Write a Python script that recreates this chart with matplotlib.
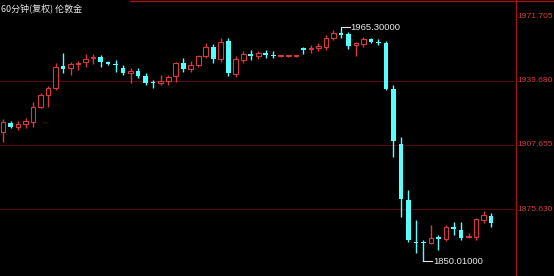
import numpy as np
import matplotlib
matplotlib.use("Agg")
import matplotlib.pyplot as plt
from matplotlib.lines import Line2D

# chart text and axis labels
title = "60分钟(复权) 伦敦金"
price_ticks = [1971.705, 1939.680, 1907.655, 1875.630]
high_label = "1965.30000"
low_label = "1850.01000"

# hourly candles
opens = [1914.1, 1918.6, 1916.6, 1918.1, 1919.1, 1926.5, 1932.5, 1936.0, 1946.9, 1945.9,
         1947.9, 1948.9, 1950.9, 1951.4, 1948.9, 1947.9, 1945.9, 1943.4, 1944.4, 1941.9,
         1938.9, 1938.4, 1939.4, 1941.9, 1948.4, 1945.4, 1947.4, 1951.8, 1956.3, 1950.4,
         1959.3, 1942.9, 1949.9, 1952.8, 1951.8, 1953.3, 1952.3, 1951.6, 1951.6, 1951.6,
         1955.8, 1955.3, 1955.8, 1956.3, 1960.8, 1963.3, 1962.8, 1957.3, 1957.8, 1960.3,
         1958.8, 1958.3, 1935.5, 1908.1, 1880.3, 1859.5, 1859.5, 1859.0, 1862.0, 1861.0,
         1866.9, 1865.5, 1862.0, 1862.0, 1870.4, 1872.4]
highs = [1920.6, 1919.6, 1919.6, 1921.1, 1929.0, 1933.5, 1937.0, 1948.4, 1953.3, 1948.9,
         1949.4, 1952.8, 1952.8, 1952.3, 1949.4, 1949.9, 1947.4, 1945.9, 1945.9, 1943.4,
         1939.9, 1942.4, 1942.4, 1948.9, 1950.9, 1949.4, 1952.3, 1958.3, 1957.8, 1960.8,
         1960.8, 1951.8, 1954.3, 1954.8, 1954.3, 1954.8, 1954.3, 1952.3, 1952.3, 1952.3,
         1956.3, 1957.3, 1958.3, 1962.3, 1964.7, 1965.3, 1963.8, 1958.8, 1961.3, 1960.8,
         1960.3, 1959.3, 1937.4, 1911.6, 1885.3, 1870.4, 1860.5, 1867.9, 1863.0, 1867.9,
         1869.4, 1869.4, 1864.0, 1871.4, 1874.9, 1873.9]
lows = [1909.1, 1916.1, 1915.1, 1916.1, 1916.6, 1926.0, 1926.5, 1935.0, 1943.4, 1942.4,
        1944.9, 1946.4, 1947.9, 1946.4, 1947.4, 1943.9, 1942.4, 1938.4, 1940.9, 1937.4,
        1935.9, 1937.4, 1937.4, 1938.9, 1943.9, 1943.9, 1946.4, 1950.9, 1948.4, 1948.9,
        1941.9, 1941.4, 1948.4, 1949.9, 1950.4, 1950.9, 1950.9, 1951.3, 1951.3, 1951.3,
        1952.8, 1953.3, 1954.3, 1954.8, 1959.8, 1960.8, 1955.3, 1951.8, 1956.3, 1958.3,
        1957.3, 1935.0, 1901.7, 1871.9, 1859.5, 1854.0, 1850.01, 1858.5, 1855.5, 1860.0,
        1863.0, 1860.5, 1861.5, 1860.5, 1868.9, 1866.9]
closes = [1919.1, 1916.6, 1918.1, 1919.6, 1926.5, 1932.5, 1936.0, 1946.4, 1945.4, 1947.9,
          1948.4, 1950.4, 1951.4, 1948.9, 1947.9, 1947.4, 1943.4, 1944.4, 1941.9, 1938.4,
          1938.4, 1939.4, 1941.4, 1948.4, 1945.4, 1947.4, 1951.8, 1956.3, 1950.4, 1958.8,
          1943.4, 1950.4, 1952.8, 1951.8, 1953.3, 1952.3, 1951.8, 1951.8, 1951.8, 1951.8,
          1954.8, 1955.8, 1956.8, 1960.8, 1963.3, 1962.3, 1956.8, 1958.3, 1960.3, 1958.8,
          1958.3, 1935.5, 1909.6, 1880.8, 1860.5, 1859.0, 1859.0, 1861.5, 1861.0, 1866.9,
          1865.9, 1861.5, 1862.5, 1870.9, 1872.9, 1868.9]

RED = "#d83a3a"
CYAN = "#54ffff"
GRID = "#560a0a"
AXIS = "#a01414"
W, H = 554, 276

fig = plt.figure(figsize=(W / 100, H / 100), dpi=100, facecolor="black")
ax = fig.add_axes([0, 0, 515 / W, 1])
ax.set_facecolor("black")
for s in ax.spines.values():
    s.set_visible(False)
ax.set_xticks([])
ax.set_yticks([])

o = np.array(opens)
h = np.array(highs)
l = np.array(lows)
c = np.array(closes)
x = np.arange(len(o))
up = c > o
dn = ~up
bw = 0.62

# grid lines at the price levels
for p in price_ticks[1:]:
    ax.axhline(p, color=GRID, lw=0.8, zorder=0)

# falling candles: filled cyan
ax.vlines(x[dn], l[dn], h[dn], color=CYAN, lw=1, zorder=2)
ax.bar(x[dn], np.maximum(o[dn] - c[dn], 0.5), bw, bottom=c[dn],
       color=CYAN, linewidth=0, zorder=3)

# rising candles: hollow red
ax.vlines(x[up], l[up], o[up], color=RED, lw=1, zorder=2)
ax.vlines(x[up], c[up], h[up], color=RED, lw=1, zorder=2)
ax.bar(x[up], np.maximum(c[up] - o[up], 0.5), bw, bottom=o[up],
       facecolor="black", edgecolor=RED, linewidth=0.8, zorder=3)

# high / low markers
ih = int(np.argmax(h))
il = int(np.argmin(l))
txt = "#e8e8e8"
ax.plot([ih, ih, ih + 1.2], [h[ih], h[ih] + 0.9, h[ih] + 0.9], color=txt, lw=0.8, zorder=4)
ax.text(ih + 1.3, h[ih] + 0.9, high_label, color=txt, fontsize=6.8,
        family="Liberation Sans", va="center", ha="left", zorder=5)
ax.plot([il, il + 1.2], [l[il], l[il]], color=txt, lw=0.8, zorder=4)
ax.text(il + 1.3, l[il], low_label, color=txt, fontsize=6.8,
        family="Liberation Sans", va="center", ha="left", zorder=5)

ax.set_xlim(-0.4, 68.19)
ax.set_ylim(1842.61, 1979.65)

# right price axis
fig.add_artist(Line2D([515.5 / W, 515.5 / W], [0, 1], color=AXIS, lw=1))
fig.add_artist(Line2D([130 / W, 1], [1 - 0.5 / H, 1 - 0.5 / H], color=AXIS, lw=1))
y0, y1 = ax.get_ylim()
for p in price_ticks:
    fy = (p - y0) / (y1 - y0)
    fig.text(517 / W, fy, f"{p:.3f}", color="#d23c3c", fontsize=6.1,
             family="Liberation Sans", va="center", ha="left")

fig.text(1 / W, 1 - 8 / H, title, color="#e6e6e6", fontsize=6.5,
         family=["Noto Sans CJK SC", "DejaVu Sans"], va="center", ha="left")

fig.savefig("out.png", dpi=100, facecolor="black")
